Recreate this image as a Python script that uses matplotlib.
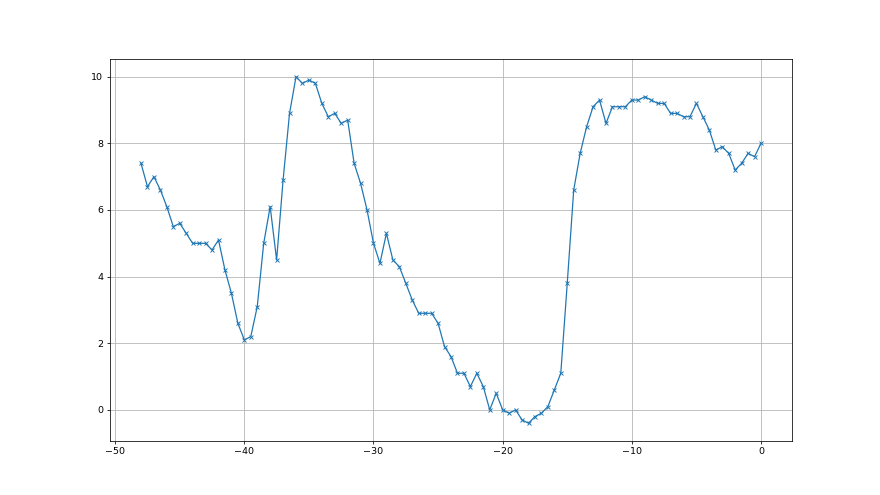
import numpy as np
import matplotlib
matplotlib.use('Agg')
import matplotlib.pyplot as plt

# Time offsets and readings.
x_start = -48.0
x_step = 0.5
values = [7.4, 6.7, 7.0, 6.6, 6.1, 5.5, 5.6, 5.3, 5.0, 5.0,
          5.0, 4.8, 5.1, 4.2, 3.5, 2.6, 2.1, 2.2, 3.1, 5.0,
          6.1, 4.5, 6.9, 8.9, 10.0, 9.8, 9.9, 9.8, 9.2, 8.8,
          8.9, 8.6, 8.7, 7.4, 6.8, 6.0, 5.0, 4.4, 5.3, 4.5,
          4.3, 3.8, 3.3, 2.9, 2.9, 2.9, 2.6, 1.9, 1.6, 1.1,
          1.1, 0.7, 1.1, 0.7, 0.0, 0.5, 0.0, -0.1, 0.0, -0.3,
          -0.4, -0.2, -0.1, 0.1, 0.6, 1.1, 3.8, 6.6, 7.7, 8.5,
          9.1, 9.3, 8.6, 9.1, 9.1, 9.1, 9.3, 9.3, 9.4, 9.3,
          9.2, 9.2, 8.9, 8.9, 8.8, 8.8, 9.2, 8.8, 8.4, 7.8,
          7.9, 7.7, 7.2, 7.4, 7.7, 7.6, 8.0]
x = x_start + x_step * np.arange(len(values))

fig, ax = plt.subplots(figsize=(12.8, 7.2), dpi=68.75)
ax.plot(x, values, marker='x', markersize=5, linewidth=1.3, color='tab:blue')
ax.grid(True)
fig.savefig('out.png', dpi=68.75)
